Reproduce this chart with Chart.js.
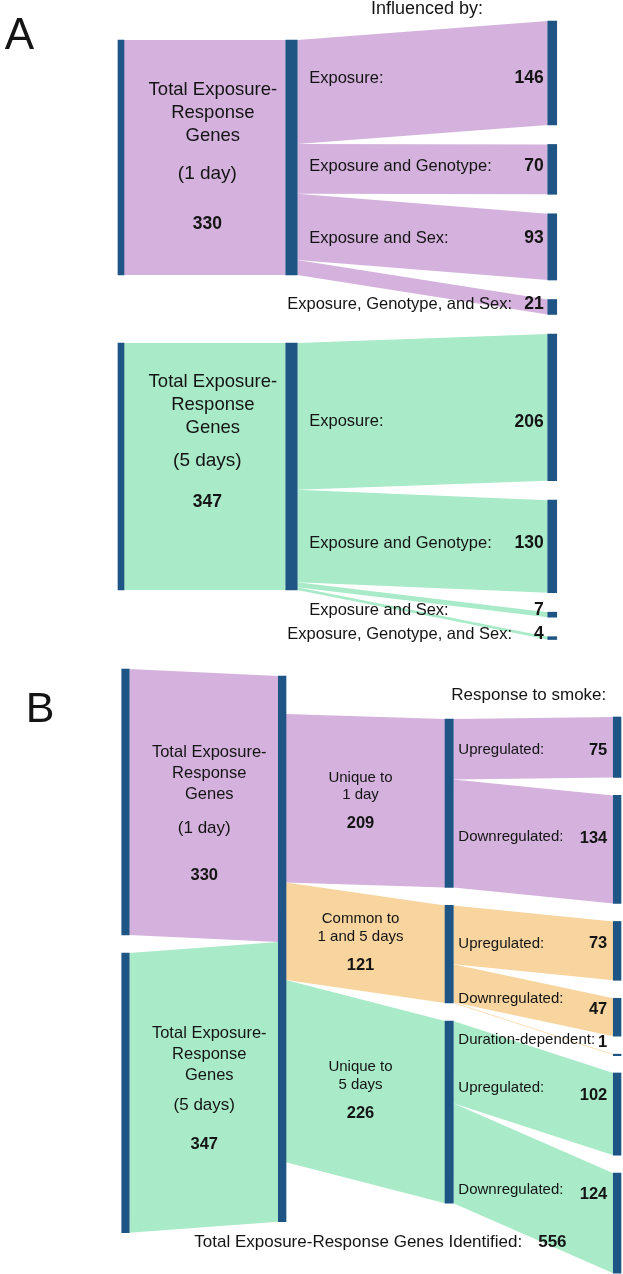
<!DOCTYPE html>
<html><head><meta charset="utf-8">
<script src="https://cdn.jsdelivr.net/npm/chart.js@4.4.1/dist/chart.umd.min.js"></script>
<style>
html,body{margin:0;padding:0;background:#fff;}
canvas{display:block;}
</style></head>
<body>
<canvas id="chartA" width="623" height="650"></canvas>
<canvas id="chartB" width="623" height="624"></canvas>
<script>
// ---------------- DATA: panel A ----------------
const nodeTitle = ['Total Exposure-', 'Response', 'Genes'];
const aTimepoints = ['(1 day)', '(5 days)'];
const aTotals = [330, 347];
const aFactors = ['Exposure:', 'Exposure and Genotype:', 'Exposure and Sex:', 'Exposure, Genotype, and Sex:'];
const aDay1 = [146, 70, 93, 21];
const aDay5 = [206, 130, 7, 4];
const aHeader = 'Influenced by:';

// ---------------- DATA: panel B ----------------
const bTimepoints = ['(1 day)', '(5 days)'];
const bTotals = [330, 347];
const bGroups = [['Unique to', '1 day'], ['Common to', '1 and 5 days'], ['Unique to', '5 days']];
const bGroupValues = [209, 121, 226];
const bResponses = ['Upregulated:', 'Downregulated:', 'Upregulated:', 'Downregulated:', 'Duration-dependent:', 'Upregulated:', 'Downregulated:'];
const bResponseValues = [75, 134, 73, 47, 1, 102, 124];
const bResponseGroup = [0, 0, 1, 1, 1, 2, 2];
const bHeader = 'Response to smoke:';
const bFooter = 'Total Exposure-Response Genes Identified:';
const bIdentified = 556;

// ---------------- STYLE / LAYOUT ----------------
const W = 623;
const pal = {node: '#1e5585', purple: '#d4b2dd', green: '#a9ebc8', orange: '#f8d49f', ink: '#141414'};
const FONT = '"Liberation Sans", Arial, sans-serif';
const dayColor = [pal.purple, pal.green];
const groupColor = [pal.purple, pal.orange, pal.green];

const aTitleOffsets = [[50, 73, 96, 134, 184], [39, 62, 85, 118, 159]];
const aLabelDy = [[5, -3, -8.5, -2.5], [14.5, -3, -4.5, -4]];
const bTitleOffsets = [[83, 104, 125, 159, 206], [80, 101, 122, 152, 191]];
const bLabelDy = [3, -13, -7, -18, -14.6, -26, -33];
const bNumberDy = [3, -11, -7, -8, -12.6, -19, -29];

function makeSankey(cfg) {
  const u = px => px / cfg.k;
  const nodes = {};
  cfg.columns.forEach((col, ci) => {
    let y = u(col.top);
    col.nodes.forEach(n => {
      nodes[n.id] = Object.assign({}, n, {col: ci, y0: y, y1: y + n.value, inY: y, outY: y + u(n.outOffset || 0)});
      y += n.value + u(col.gap);
    });
  });
  const half = col => col.w / 2 / W;
  const flows = cfg.links.map(l => {
    const s = nodes[l.s], t = nodes[l.t];
    const sc = cfg.columns[s.col], tc = cfg.columns[t.col];
    const f = {x0: sc.x + half(sc), x1: tc.x - half(tc), a0: s.outY, b0: t.inY, v: l.v, color: l.color, s: l.s, t: l.t};
    s.outY += l.v; t.inY += l.v;
    return f;
  });
  const datasets = [];
  const lineBase = {type: 'line', borderWidth: 0, borderColor: 'rgba(0,0,0,0)', pointRadius: 0, pointHoverRadius: 0, tension: 0, order: 2};
  flows.forEach(f => {
    datasets.push(Object.assign({}, lineBase, {data: [{x: f.x0, y: f.a0}, {x: f.x1, y: f.b0}], fill: false}));
    datasets.push(Object.assign({}, lineBase, {data: [{x: f.x0, y: f.a0 + f.v}, {x: f.x1, y: f.b0 + f.v}], fill: '-1', backgroundColor: f.color}));
  });
  cfg.columns.forEach(col => {
    datasets.push({
      type: 'bar',
      data: col.nodes.map(n => ({x: col.x, y: [nodes[n.id].y0, nodes[n.id].y1]})),
      backgroundColor: pal.node, barThickness: col.w, grouped: false,
      borderWidth: 0, borderSkipped: false, minBarLength: 1.5, order: 0
    });
  });
  return {nodes, flows, datasets};
}

function text(ctx, s, x, y, size, opts) {
  opts = opts || {};
  ctx.save();
  ctx.font = (opts.bold ? 'bold ' : '') + size + 'px ' + FONT;
  ctx.fillStyle = pal.ink;
  ctx.textAlign = opts.align || 'center';
  ctx.textBaseline = 'middle';
  ctx.fillText(s, x, y);
  ctx.restore();
}

function render(id, cfg, S, drawLabels) {
  new Chart(document.getElementById(id), {
    type: 'bar',
    data: {datasets: S.datasets},
    options: {
      responsive: false, animation: false, events: [],
      layout: {padding: 0},
      plugins: {legend: {display: false}, tooltip: {enabled: false}, title: {display: false}},
      scales: {
        x: {type: 'linear', min: 0, max: 1, display: false, offset: false},
        y: {type: 'linear', min: 0, max: cfg.H / cfg.k, reverse: true, display: false}
      }
    },
    plugins: [{id: 'sankeyLabels', afterDatasetsDraw(chart) { drawLabels(chart, S, cfg); }}]
  });
}

function helpers(chart, cfg) {
  const X = v => chart.scales.x.getPixelForValue(v);
  const Y = v => chart.scales.y.getPixelForValue(v);
  const edge = (ci, side) => X(cfg.columns[ci].x) + side * cfg.columns[ci].w / 2;
  return {X, Y, edge, ctx: chart.ctx};
}

// ---------------- PANEL A ----------------
const aCfg = {
  H: 650, k: 0.712,
  columns: [
    {x: 0.1942, w: 6, top: 40, gap: 68, nodes: aTotals.map((v, i) => ({id: 'T' + i, value: v}))},
    {x: 0.4679, w: 11.5, top: 40, gap: 68, nodes: aTotals.map((v, i) => ({id: 'M' + i, value: v}))},
    {x: 0.8864, w: 9, top: 21, gap: 19.5, nodes: [
      ...aDay1.map((v, j) => ({id: 'F0_' + j, value: v})),
      ...aDay5.map((v, j) => ({id: 'F1_' + j, value: v}))]}
  ],
  links: [
    ...aTotals.map((v, i) => ({s: 'T' + i, t: 'M' + i, v, color: dayColor[i]})),
    ...aDay1.map((v, j) => ({s: 'M0', t: 'F0_' + j, v, color: dayColor[0]})),
    ...aDay5.map((v, j) => ({s: 'M1', t: 'F1_' + j, v, color: dayColor[1]}))
  ]
};
const SA = makeSankey(aCfg);
render('chartA', aCfg, SA, (chart, S, cfg) => {
  const {Y, edge, ctx} = helpers(chart, cfg);
  text(ctx, 'A', 19.5, 37, 44);
  text(ctx, aHeader, 427, 9, 18);
  const mid = (edge(0, 1) + edge(1, -1)) / 2;
  aTotals.forEach((v, i) => {
    const top = Y(S.nodes['T' + i].y0), off = aTitleOffsets[i];
    nodeTitle.forEach((line, li) => text(ctx, line, mid + 8, top + off[li], 18.5));
    text(ctx, aTimepoints[i], mid + 2.5, top + off[3], 19);
    text(ctx, String(v), mid + 2.5, top + off[4], 17.5, {bold: true});
  });
  [aDay1, aDay5].forEach((vals, i) => vals.forEach((v, j) => {
    const n = S.nodes['F' + i + '_' + j];
    const yc = Y((n.y0 + n.y1) / 2) + aLabelDy[i][j];
    const lx = j === 3 ? edge(1, 1) - 10 : edge(1, 1) + 12;
    text(ctx, aFactors[j], lx, yc, 16.5, {align: 'left'});
    text(ctx, String(v), edge(2, -1) - 4, yc, 17.5, {bold: true, align: 'right'});
  }));
});

// ---------------- PANEL B ----------------
const bCfg = {
  H: 624, k: 0.806,
  columns: [
    {x: 0.2014, w: 7.5, top: 19, gap: 18, nodes: bTotals.map((v, i) => ({id: 'T' + i, value: v}))},
    {x: 0.4529, w: 7.7, top: 26, gap: 18, nodes: [{id: 'M', value: bTotals.reduce((a, b) => a + b, 0), outOffset: 38}]},
    {x: 0.7210, w: 8.3, top: 69, gap: 18, nodes: bGroupValues.map((v, j) => ({id: 'G' + j, value: v}))},
    {x: 0.9906, w: 7.7, top: 67, gap: 18, nodes: bResponseValues.map((v, r) => ({id: 'R' + r, value: v}))}
  ],
  links: [
    ...bTotals.map((v, i) => ({s: 'T' + i, t: 'M', v, color: dayColor[i]})),
    ...bGroupValues.map((v, j) => ({s: 'M', t: 'G' + j, v, color: groupColor[j]})),
    ...bResponseValues.map((v, r) => ({s: 'G' + bResponseGroup[r], t: 'R' + r, v, color: groupColor[bResponseGroup[r]]}))
  ]
};
const SB = makeSankey(bCfg);
render('chartB', bCfg, SB, (chart, S, cfg) => {
  const {X, Y, edge, ctx} = helpers(chart, cfg);
  text(ctx, 'B', 40, 60, 43);
  text(ctx, bHeader, edge(3, -1) - 7, 45, 17, {align: 'right'});
  const mid = (edge(0, 1) + edge(1, -1)) / 2;
  bTotals.forEach((v, i) => {
    const top = Y(S.nodes['T' + i].y0), off = bTitleOffsets[i];
    nodeTitle.forEach((line, li) => text(ctx, line, mid + 5.5, top + off[li], 16.5));
    text(ctx, bTimepoints[i], mid + 0.5, top + off[3], 17);
    text(ctx, String(v), mid + 0.5, top + off[4], 16.5, {bold: true});
  });
  const gx = (edge(1, 1) + edge(2, -1)) / 2 - 5;
  const gv = chart.scales.x.getValueForPixel(gx);
  bGroupValues.forEach((v, j) => {
    const f = S.flows.find(fl => fl.t === 'G' + j);
    const t = (gv - f.x0) / (f.x1 - f.x0);
    const yc = Y(f.a0 + (f.b0 - f.a0) * t + f.v / 2);
    text(ctx, bGroups[j][0], gx, yc - 23, 15);
    text(ctx, bGroups[j][1], gx, yc - 5.5, 15);
    text(ctx, String(v), gx, yc + 23, 16.5, {bold: true});
  });
  bResponseValues.forEach((v, r) => {
    const n = S.nodes['R' + r];
    const yc = Y((n.y0 + n.y1) / 2);
    text(ctx, bResponses[r], edge(2, 1) + 5, yc + bLabelDy[r], 15, {align: 'left'});
    text(ctx, String(v), edge(3, -1) - 6, yc + bNumberDy[r], 16.5, {bold: true, align: 'right'});
  });
  const cx = X(cfg.columns[2].x);
  text(ctx, bFooter, cx + 73, 592, 17, {align: 'right'});
  text(ctx, String(bIdentified), cx + 89, 592, 17, {bold: true, align: 'left'});
});
</script>
</body></html>
